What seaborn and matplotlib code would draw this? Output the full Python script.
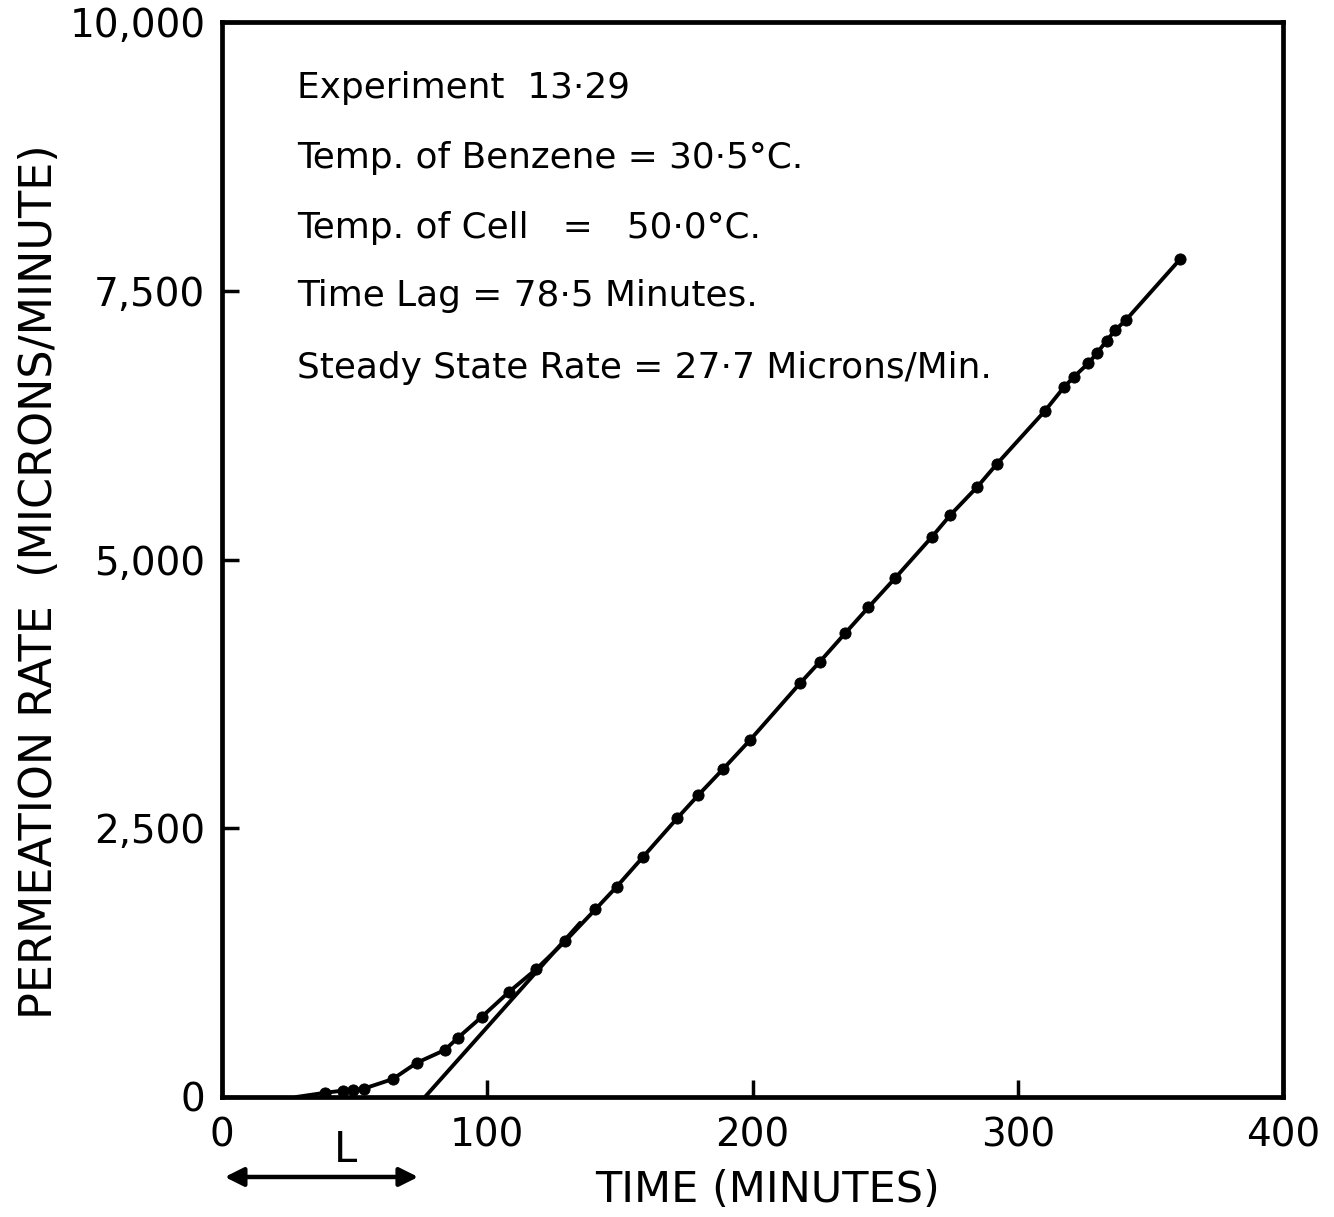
import matplotlib
matplotlib.use("Agg")
import matplotlib.pyplot as plt
import seaborn as sns
import pandas as pd

# ---- data ----
time_min = [39.0, 45.5, 49.4, 53.4, 64.4, 73.5, 84.0, 89.0, 98.0, 108.3, 118.4,
            129.5, 140.8, 148.8, 158.8, 171.6, 179.6, 188.8, 199.1, 217.9, 225.4,
            234.9, 243.7, 253.7, 267.7, 274.6, 284.8, 292.1, 310.3, 317.4, 321.2,
            326.6, 329.8, 333.5, 336.8, 340.8, 361.2]
permeation = [40, 59, 65, 77, 167, 319, 437, 552, 747, 980, 1188,
              1452, 1746, 1956, 2235, 2593, 2809, 3048, 3321, 3848, 4049,
              4313, 4555, 4825, 5212, 5414, 5677, 5888, 6384, 6602, 6700,
              6825, 6918, 7035, 7135, 7228, 7793]
curve_start_t = [28.0]
curve_start_y = [0]
# steady-state asymptote drawn on the plot (time lag intercept)
asym_t = [76.5, 135.0]
asym_y = [0, 1620]
lag_arrow_t = [0, 75]

x_ticks = [0, 100, 200, 300, 400]
x_tick_labels = ["0", "100", "200", "300", "400"]
y_ticks = [0, 2500, 5000, 7500, 10000]
y_tick_labels = ["0", "2,500", "5,000", "7,500", "10,000"]

notes = ["Experiment  13·29",
         "Temp. of Benzene = 30·5°C.",
         "Temp. of Cell   =   50·0°C.",
         "Time Lag = 78·5 Minutes.",
         "Steady State Rate = 27·7 Microns/Min."]

sns.set_style("white")
plt.rcParams['font.family'] = ['DejaVu Sans']
plt.rcParams['text.color'] = 'black'
plt.rcParams['axes.labelcolor'] = 'black'

fig = plt.figure(figsize=(13.34, 12.17), dpi=100)
ax = fig.add_axes([222/1334, 1 - 1097/1217, (1283-222)/1334, (1097-22)/1217])

curve = pd.DataFrame({"t": curve_start_t + time_min, "y": curve_start_y + permeation})
pts = pd.DataFrame({"t": time_min, "y": permeation})
asym = pd.DataFrame({"t": asym_t, "y": asym_y})

sns.lineplot(data=curve, x="t", y="y", ax=ax, color="black", lw=2.8, sort=True)
sns.lineplot(data=asym, x="t", y="y", ax=ax, color="black", lw=2.8)
sns.scatterplot(data=pts, x="t", y="y", ax=ax, color="black", s=65, edgecolor="black", zorder=5)

ax.set_xlim(0, 400)
ax.set_ylim(0, 10000)
ax.set_xticks(x_ticks)
ax.set_xticklabels(x_tick_labels)
ax.set_yticks(y_ticks)
ax.set_yticklabels(y_tick_labels)
ax.tick_params(axis="both", direction="in", length=12, width=2.5, labelsize=28,
               colors="black", top=False, right=False, bottom=True, left=True)
ax.tick_params(axis="x", pad=14)
ax.tick_params(axis="y", pad=12)
for s in ax.spines.values():
    s.set_linewidth(3.4)
    s.set_color("black")

ax.set_xlabel("TIME (MINUTES)", fontsize=31, color="black")
ax.xaxis.set_label_coords(0.514, -0.0865)
ax.xaxis.label.set_va("center")
ax.set_ylabel("PERMEATION RATE  (MICRONS/MINUTE)", fontsize=32, color="black")
ax.yaxis.set_label_coords(-0.172, 0.479)
ax.yaxis.label.set_va("center")

ys = [0.9386, 0.8735, 0.8084, 0.7451, 0.6781]
for txt, yy in zip(notes, ys):
    ax.text(0.0707, yy, txt, transform=ax.transAxes, fontsize=25.8, va="center",
            ha="left", color="black")

# time-lag arrow "L"
ax.annotate("", xy=(lag_arrow_t[0], -0.0744), xytext=(lag_arrow_t[1], -0.0744),
            xycoords=("data", "axes fraction"), textcoords=("data", "axes fraction"),
            arrowprops=dict(arrowstyle="<|-|>", color="black", lw=3.2, mutation_scale=28),
            annotation_clip=False)
ax.text(46.5, -0.049, "L", transform=ax.get_xaxis_transform(), fontsize=30,
        ha="center", va="center", color="black")

fig.savefig("out.png", dpi=100)
